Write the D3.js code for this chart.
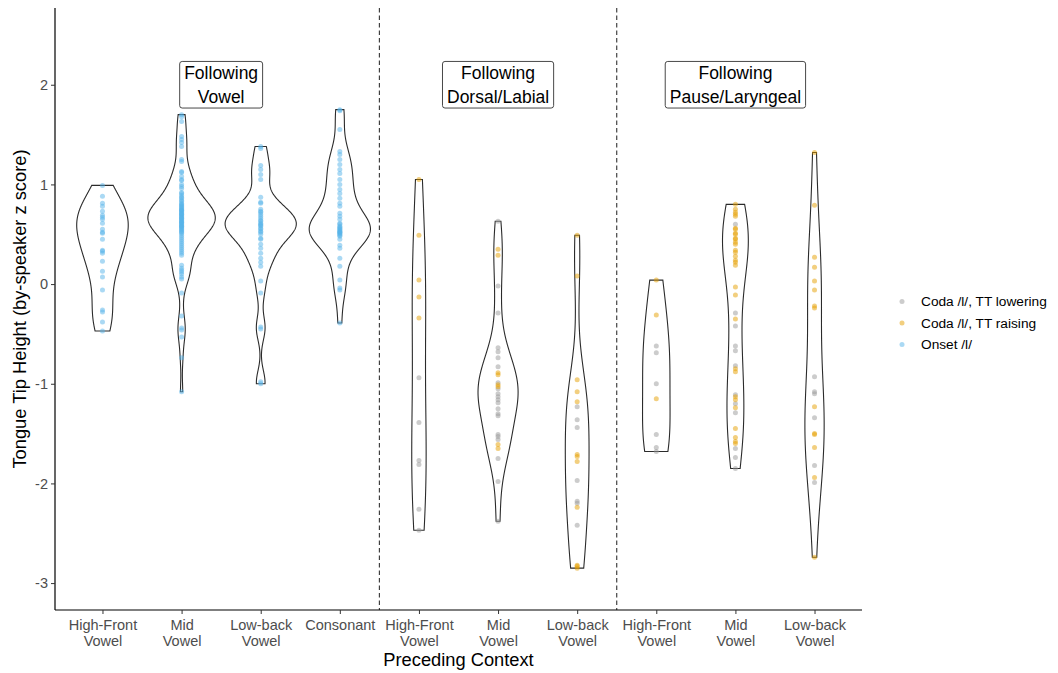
<!DOCTYPE html>
<html>
<head>
<meta charset="utf-8">
<script src="https://cdn.jsdelivr.net/npm/d3@7"></script>
<style>
  body { margin: 0; background: #fff; }
  svg { font-family: Arial, "Liberation Sans", Helvetica, sans-serif; }
</style>
</head>
<body>
<div id="chart"></div>
<script>
var svgWidth = 1058;
var svgHeight = 673;

// panel edges
var panel = { left: 55, right: 862, top: 8, bottom: 610 };

// x categories (tick labels, two lines)
var tickLabels = [
  ["High-Front", "Vowel"], ["Mid", "Vowel"], ["Low-back", "Vowel"], ["Consonant"],
  ["High-Front", "Vowel"], ["Mid", "Vowel"], ["Low-back", "Vowel"],
  ["High-Front", "Vowel"], ["Mid", "Vowel"], ["Low-back", "Vowel"]
];
var yTicks = [-3, -2, -1, 0, 1, 2];

// panel labels and where they sit (category index, z value)
var panelLabels = [["Following", "Vowel"], ["Following", "Dorsal/Labial"], ["Following", "Pause/Laryngeal"]];
var panelLabelX = [1.5, 5, 8];
var panelLabelY = [2, 2, 2];
var dividers = [3.5, 6.5];

// legend
var seriesNames = ["Coda /l/, TT lowering", "Coda /l/, TT raising", "Onset /l/"];
var seriesColors = ["#999999", "#E69F00", "#56B4E9"];

// ---- Following Vowel: onset tokens
var onsetHF = [0.99, 0.88, 0.81, 0.78, 0.73, 0.69, 0.67, 0.65, 0.61, 0.55, 0.52, 0.51, 0.45, 0.34, 0.33, 0.31, 0.23, 0.13, 0.07, -0.06, -0.26, -0.28, -0.38, -0.47];
var onsetMid = [1.70, 1.68, 1.63, 1.48, 1.45, 1.42, 1.38, 1.25, 1.23, 1.13, 1.12, 0.74, 1.08, 1.05, 1.04, 0.98, 1.00, 0.62, 0.96, 0.58, 0.92, 0.91, 0.89, 0.87, 0.86, 0.84, 0.83, 0.81, 0.80, 0.79, 0.78, 0.77, 0.76, 0.75, 0.74, 0.73, 0.72, 0.71, 0.70, 0.70, 0.69, 0.68, 0.67, 0.66, 0.66, 0.65, 0.64, 0.63, 0.62, 0.61, 0.60, 0.59, 0.58, 0.57, 0.56, 0.55, 0.54, 0.53, 0.52, 0.51, 0.49, 0.47, 0.45, 0.43, 0.41, 0.39, 0.37, 0.35, 0.33, 0.31, 0.29, 0.19, 0.16, 0.14, 0.12, 0.10, 0.07, 0.05, -0.09, -0.32, -0.44, -0.46, -0.53, -0.74, -1.08];
var onsetLB = [1.38, 1.36, 1.19, 1.15, 1.10, 1.05, 0.87, 0.82, 0.81, 0.75, 0.73, 0.72, 0.70, 0.68, 0.66, 0.64, 0.63, 0.61, 0.60, 0.59, 0.58, 0.56, 0.55, 0.53, 0.52, 0.50, 0.46, 0.45, 0.40, 0.36, 0.31, 0.26, 0.22, 0.18, 0.03, -0.09, -0.43, -0.45, -0.98, -1.00];
var onsetCons = [1.75, 1.74, 1.55, 1.33, 1.30, 1.25, 1.20, 1.15, 1.11, 1.05, 1.00, 0.95, 0.91, 0.86, 0.81, 0.78, 0.71, 0.68, 0.65, 0.61, 0.60, 0.58, 0.57, 0.56, 0.55, 0.54, 0.53, 0.52, 0.52, 0.51, 0.50, 0.49, 0.48, 0.45, 0.39, 0.36, 0.26, 0.18, 0.04, -0.04, -0.06, -0.39];

// ---- Following Dorsal/Labial: coda tokens
var dlHFLower = [-0.94, -1.39, -1.77, -1.81, -2.26, -2.47];
var dlHFRaise = [1.05, 0.49, 0.04, -0.13, -0.34];
var dlMidLower = [0.63, -0.02, -0.29, -0.64, -0.68, -0.74, -0.83, -0.99, -1.05, -1.10, -1.13, -1.16, -1.19, -1.25, -1.30, -1.32, -1.51, -1.53, -1.56, -1.75, -1.98, -2.38];
var dlMidRaise = [0.35, 0.29, -0.89, -0.91, -1.01, -1.03, -1.61, -1.65];
var dlLBLower = [-1.23, -1.36, -1.44, -1.97, -2.18, -2.20, -2.42];
var dlLBRaise = [0.49, 0.08, -0.96, -1.08, -1.18, -1.71, -1.73, -1.78, -2.24, -2.82, -2.83, -2.85];

// ---- Following Pause/Laryngeal: coda tokens
var plHFLower = [-0.62, -0.69, -1.00, -1.51, -1.64, -1.68];
var plHFRaise = [0.04, -0.31, -1.15];
var plMidLower = [0.60, -0.29, -0.42, -0.62, -0.67, -0.82, -1.11, -1.20, -1.29, -1.65, -1.74, -1.85];
var plMidRaise = [0.80, 0.75, 0.72, 0.70, 0.68, 0.56, 0.55, 0.51, 0.50, 0.46, 0.45, 0.42, 0.40, 0.34, 0.32, 0.28, 0.24, 0.22, 0.19, -0.03, -0.11, -0.35, -0.85, -0.88, -1.13, -1.16, -1.24, -1.45, -1.54, -1.58, -1.60];
var plLBLower = [-0.93, -1.08, -1.10, -1.34, -1.82, -1.99];
var plLBRaise = [1.32, 0.79, 0.27, 0.17, 0.03, -0.06, -0.22, -0.24, -1.23, -1.50, -1.51, -1.64, -1.94, -2.74];

// table of groups: [lowering, raising, onset] per category
var groups = [
  [[], [], onsetHF], [[], [], onsetMid], [[], [], onsetLB], [[], [], onsetCons],
  [dlHFLower, dlHFRaise, []], [dlMidLower, dlMidRaise, []], [dlLBLower, dlLBRaise, []],
  [plHFLower, plHFRaise, []], [plMidLower, plMidRaise, []], [plLBLower, plLBRaise, []]
];

var svg = d3.select("#chart").append("svg")
    .attr("width", svgWidth)
    .attr("height", svgHeight);

var x = d3.scalePoint()
    .domain(d3.range(tickLabels.length))
    .range([panel.left, panel.right])
    .padding(0.6);
var step = x.step();
var xAt = function(v) { return x(0) + v * step; };

var y = d3.scaleLinear()
    .domain([-3.27, 2.77])
    .range([panel.bottom, panel.top]);

// gaussian kde, bw.nrd0, trimmed to data range
function kde(vals) {
  var n = vals.length;
  var sorted = vals.slice().sort(d3.ascending);
  var sd = d3.deviation(sorted);
  var iqr = d3.quantileSorted(sorted, 0.75) - d3.quantileSorted(sorted, 0.25);
  var lo = Math.min(sd, iqr / 1.34);
  if (!(lo > 0)) lo = sd;
  var bw = 0.9 * lo * Math.pow(n, -0.2);
  var mn = sorted[0], mx = sorted[n - 1];
  return d3.range(512).map(function(i) {
    var t = mn + (mx - mn) * i / 511;
    var s = d3.sum(sorted, function(v) { var z = (t - v) / bw; return Math.exp(-0.5 * z * z); });
    return [t, s / (n * bw * Math.sqrt(2 * Math.PI))];
  });
}

var dens = groups.map(function(g) { return kde(g[0].concat(g[1], g[2])); });
var dMax = d3.max(dens, function(d) { return d3.max(d, function(p) { return p[1]; }); });
var w = d3.scaleLinear().domain([0, dMax]).range([0, 0.45 * step]);

// dashed separators
svg.append("g").selectAll("line")
  .data(dividers).join("line")
    .attr("x1", xAt).attr("x2", xAt)
    .attr("y1", panel.top).attr("y2", panel.bottom)
    .attr("stroke", "#333")
    .attr("stroke-width", 1.1)
    .attr("stroke-dasharray", "4.5,3");

// violins
svg.append("g").selectAll("path")
  .data(dens).join("path")
    .attr("d", function(d, i) {
      var cx = x(i);
      return d3.area()
        .y(function(p) { return y(p[0]); })
        .x0(function(p) { return cx - w(p[1]); })
        .x1(function(p) { return cx + w(p[1]); })(d) + "Z";
    })
    .attr("fill", "#fff")
    .attr("stroke", "#2b2b2b")
    .attr("stroke-width", 1.1);

// points
var pts = [];
groups.forEach(function(g, i) {
  g.forEach(function(vals, s) {
    vals.forEach(function(v) { pts.push({ cat: i, s: s, v: v }); });
  });
});
svg.append("g").selectAll("circle")
  .data(pts).join("circle")
    .attr("cx", function(d) { return x(d.cat); })
    .attr("cy", function(d) { return y(d.v); })
    .attr("r", 2.5)
    .attr("fill", function(d) { return seriesColors[d.s]; })
    .attr("fill-opacity", 0.5);

// axes
var yAxis = svg.append("g")
    .attr("transform", "translate(" + panel.left + ",0)")
    .call(d3.axisLeft(y).tickValues(yTicks).tickSize(4).tickSizeOuter(0).tickPadding(3)
      .tickFormat(function(d) { return String(d); }));
var xAxis = svg.append("g")
    .attr("transform", "translate(0," + panel.bottom + ")")
    .call(d3.axisBottom(x).tickSize(4).tickSizeOuter(0).tickPadding(3).tickFormat(""));

[yAxis, xAxis].forEach(function(a) {
  a.select(".domain").attr("stroke", "#000").attr("stroke-width", 1.2);
  a.selectAll(".tick line").attr("stroke", "#333").attr("stroke-width", 1);
  a.selectAll("text").attr("fill", "#4d4d4d").attr("font-size", "14.5px");
});
yAxis.selectAll(".domain").attr("d", "M0," + panel.top + "V" + panel.bottom);
xAxis.selectAll(".domain").attr("d", "M" + panel.left + ",0H" + panel.right);

xAxis.selectAll(".tick text")
    .attr("y", 0)
    .attr("dy", null)
    .each(function(d) {
      var t = d3.select(this);
      tickLabels[d].forEach(function(line, k) {
        t.append("tspan").attr("x", 0).attr("y", 20 + k * 16).text(line);
      });
    });

// panel labels
var lab = svg.append("g").selectAll("g")
  .data(panelLabels).join("g")
    .attr("transform", function(d, i) { return "translate(" + xAt(panelLabelX[i]) + "," + y(panelLabelY[i]) + ")"; });
lab.append("rect");
lab.each(function(d) {
  var g = d3.select(this);
  var t = g.append("text")
      .attr("text-anchor", "middle")
      .attr("font-size", "17.5px")
      .attr("fill", "#000");
  d.forEach(function(line, k) {
    t.append("tspan").attr("x", 0).attr("y", (k - 0.5) * 24.3).attr("dy", "0.35em").text(line);
  });
  var bw = t.node().getBBox().width + 9;
  g.select("rect")
    .attr("x", -bw / 2).attr("y", -23.3)
    .attr("width", bw).attr("height", 46.6)
    .attr("rx", 2.5)
    .attr("fill", "#fff")
    .attr("stroke", "#333")
    .attr("stroke-width", 0.9);
});

// axis titles
svg.append("text")
    .attr("transform", "translate(20," + ((panel.top + panel.bottom) / 2) + ") rotate(-90)")
    .attr("text-anchor", "middle")
    .attr("dy", "0.35em")
    .attr("font-size", "18.3px")
    .text("Tongue Tip Height (by-speaker z score)");
svg.append("text")
    .attr("x", (panel.left + panel.right) / 2)
    .attr("y", 660)
    .attr("dy", "0.35em")
    .attr("text-anchor", "middle")
    .attr("font-size", "18.3px")
    .text("Preceding Context");

// legend
var leg = svg.append("g").selectAll("g")
  .data(seriesNames).join("g")
    .attr("transform", function(d, i) { return "translate(902," + (301.5 + i * 21.5) + ")"; });
leg.append("circle")
    .attr("r", 2.5)
    .attr("fill", function(d, i) { return seriesColors[i]; })
    .attr("fill-opacity", 0.5);
leg.append("text")
    .attr("x", 19)
    .attr("dy", "0.35em")
    .attr("font-size", "13.7px")
    .text(function(d) { return d; });
</script>
</body>
</html>
